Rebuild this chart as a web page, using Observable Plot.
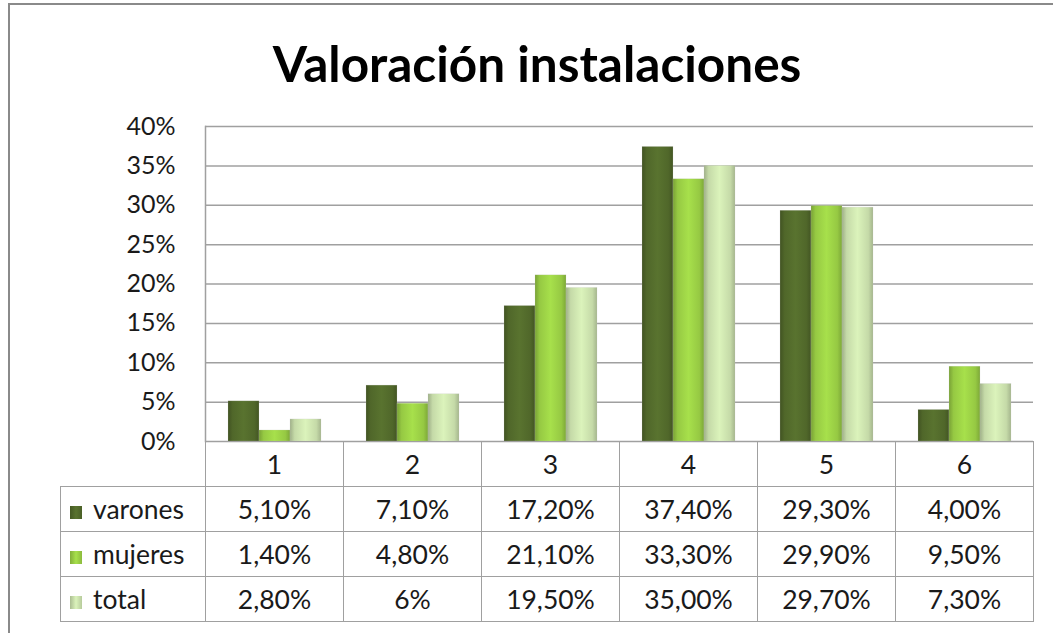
<!DOCTYPE html>
<html><head><meta charset="utf-8">
<script src="https://cdn.jsdelivr.net/npm/d3@7"></script>
<script src="https://cdn.jsdelivr.net/npm/@observablehq/plot@0.6"></script>
<style>
body{margin:0;background:#fff;font-family:Lato,"Open Sans",sans-serif;color:#1a1a1a;}
#wrap{position:relative;width:1053px;height:633px;overflow:hidden;background:#fff;}
#frame{position:absolute;left:8px;top:3px;width:1100px;height:700px;border:2px solid #8a8a8a;box-sizing:border-box;}
#title{position:absolute;left:8px;width:1058px;top:39px;text-align:center;font-weight:bold;font-size:49.5px;line-height:49.5px;color:#000;}
#chart{position:absolute;left:0;top:0;}
#tbl{position:absolute;border-collapse:collapse;table-layout:fixed;font-size:26.5px;}
#tbl td{border:1.5px solid #a0a0a0;height:45px;padding:0;text-align:center;box-sizing:border-box;}
#tbl td.lab{text-align:left;padding-left:9px;}
.key{display:inline-block;width:12px;height:13px;margin-right:11px;vertical-align:0px;}
</style></head>
<body>
<div id="wrap">
  <div id="frame"></div>
  <div id="title">Valoración instalaciones</div>
  <div id="chart"></div>
</div>
<script>
const categories = ["1", "2", "3", "4", "5", "6"];
const seriesNames = ["varones", "mujeres", "total"];
const varones = [5.1, 7.1, 17.2, 37.4, 29.3, 4.0];
const mujeres = [1.4, 4.8, 21.1, 33.3, 29.9, 9.5];
const total = [2.8, 6, 19.5, 35.0, 29.7, 7.3];
const varonesLabels = ["5,10%", "7,10%", "17,20%", "37,40%", "29,30%", "4,00%"];
const mujeresLabels = ["1,40%", "4,80%", "21,10%", "33,30%", "29,90%", "9,50%"];
const totalLabels = ["2,80%", "6%", "19,50%", "35,00%", "29,70%", "7,30%"];
const yTicks = [0, 5, 10, 15, 20, 25, 30, 35, 40];

const seriesValues = [varones, mujeres, total];
const seriesLabels = [varonesLabels, mujeresLabels, totalLabels];
const baseColors = ["#50672a", "#96c943", "#c5daa8"];
const gradIds = ["gv", "gm", "gt"];

const data = categories.flatMap((c, i) => seriesNames.map((s, j) => ({cat: c, series: s, value: seriesValues[j][i]})));

const plot = Plot.plot({
  width: 1053, height: 633,
  marginLeft: 203, marginRight: 19, marginTop: 126, marginBottom: 192,
  style: {background: "transparent", fontFamily: "Lato, 'Open Sans', sans-serif", fontSize: "25px", color: "#1a1a1a", overflow: "visible"},
  fx: {domain: categories, padding: 0, axis: null},
  x: {domain: seriesNames, paddingInner: 0, paddingOuter: 0.71, axis: null},
  y: {domain: [0, 40], ticks: yTicks, tickFormat: d => d + "%", tickSize: 0, tickPadding: 30, label: null},
  color: {domain: seriesNames, range: gradIds.map(id => `url(#${id})`)},
  marks: [
    Plot.gridY(yTicks, {stroke: "#a0a0a0", strokeOpacity: 1, strokeWidth: 1.5}),
    Plot.frame({anchor: "left", facetAnchor: "left", stroke: "#a0a0a0", strokeWidth: 1.5}),
    Plot.barY(data, {fx: "cat", x: "series", y: "value", fill: "series", stroke: "#c8c8c8", strokeOpacity: 0.4, strokeWidth: 0.5}),
    Plot.axisY({ticks: yTicks, tickFormat: d => d + "%", tickSize: 0, tickPadding: 30, fontSize: 25, fill: "#1a1a1a"})
  ]
});

// gradients for the bevelled bars
const svgNS = "http://www.w3.org/2000/svg";
const defs = document.createElementNS(svgNS, "defs");
gradIds.forEach((id, k) => {
  const g = document.createElementNS(svgNS, "linearGradient");
  g.setAttribute("id", id);
  g.setAttribute("x1", "0"); g.setAttribute("x2", "1"); g.setAttribute("y1", "0"); g.setAttribute("y2", "0");
  const base = d3.color(baseColors[k]);
  const stops = [[0, base.darker(0.6)], [0.15, base], [0.5, base.brighter(0.3)], [0.85, base], [1, base.darker(0.5)]];
  stops.forEach(([o, c]) => {
    const s = document.createElementNS(svgNS, "stop");
    s.setAttribute("offset", o);
    s.setAttribute("stop-color", c.formatHex());
    g.appendChild(s);
  });
  defs.appendChild(g);
});
plot.insertBefore(defs, plot.firstChild);
document.getElementById("chart").appendChild(plot);

// data table below the plot, aligned with the fx scale
const fx = plot.scale("fx");
const yS = plot.scale("y");
const bw = fx.bandwidth;
const left0 = fx.apply(categories[0]);
const labelW = 145;
const tbl = document.createElement("table");
tbl.id = "tbl";
tbl.style.left = (left0 - labelW) + "px";
tbl.style.top = yS.apply(0) + "px";
tbl.style.width = (labelW + bw * categories.length) + "px";
const cg = document.createElement("colgroup");
[labelW, ...categories.map(() => bw)].forEach(w => { const c = document.createElement("col"); c.style.width = w + "px"; cg.appendChild(c); });
tbl.appendChild(cg);
const hr = tbl.insertRow();
const h0 = hr.insertCell(); h0.style.borderTop = "none"; h0.style.borderLeft = "none";
categories.forEach(c => { const td = hr.insertCell(); td.textContent = c; });
seriesNames.forEach((s, j) => {
  const r = tbl.insertRow();
  const l = r.insertCell(); l.className = "lab";
  const key = document.createElement("span"); key.className = "key";
  key.style.background = `linear-gradient(to right, ${d3.color(baseColors[j]).darker(0.4)}, ${d3.color(baseColors[j]).brighter(0.3)}, ${d3.color(baseColors[j]).darker(0.2)})`;
  l.appendChild(key); l.appendChild(document.createTextNode(s));
  seriesLabels[j].forEach(v => { const td = r.insertCell(); td.textContent = v; });
});
document.getElementById("wrap").appendChild(tbl);
</script>
</body></html>
